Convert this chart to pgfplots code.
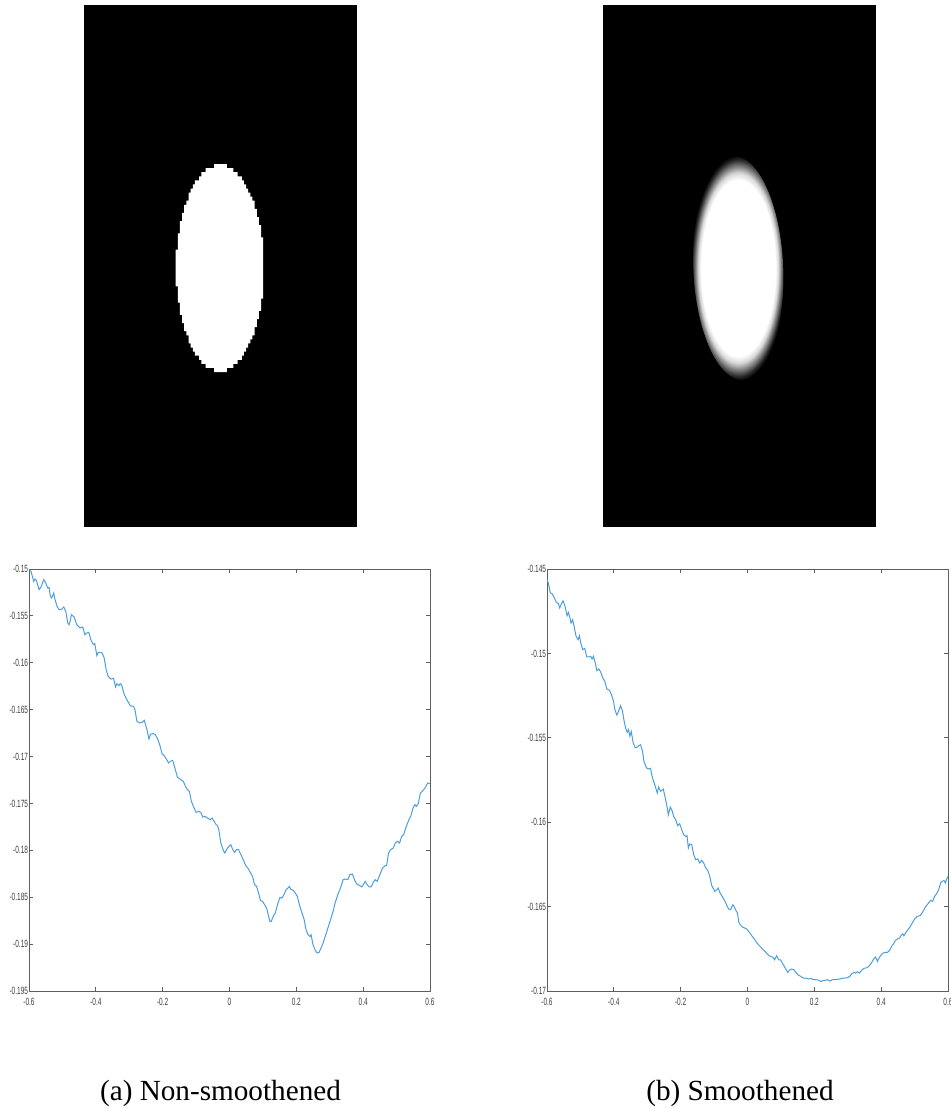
\documentclass[border=0pt]{standalone}
\usepackage{fontspec}
\setmainfont{Liberation Serif}
\newfontfamily\tickfont[FakeStretch=0.62]{Liberation Sans}
\usepackage{pgfplots}
\pgfplotsset{compat=1.18}
\definecolor{mlblue}{RGB}{77,158,220}
\definecolor{axgray}{RGB}{95,95,95}
\definecolor{lblgray}{RGB}{60,60,60}
\pgfdeclareradialshading{blurell}{\pgfpoint{0bp}{0bp}}{color(0bp)=(white); color(19.5bp)=(white); color(21bp)=(black!15!white); color(22.5bp)=(black!50!white); color(24bp)=(black!85!white); color(25bp)=(black); color(50bp)=(black)}
\pgfplotsset{
 lineplot/.style={scale only axis, width=200.5pt, height=211pt, xmin=-0.6, xmax=0.6,
   axis line style={axgray, line width=0.45pt}, tick style={axgray, line width=0.45pt},
   tick align=inside, major tick length=2pt, xtick pos=both, ytick pos=both,
   xtick={-0.6,-0.4,-0.2,0,0.2,0.4,0.6}, xticklabels={-0.6,-0.4,-0.2,0,0.2,0.4,0.6},
   tick label style={font=\tickfont\fontsize{5.25pt}{6pt}\selectfont, text=lblgray},
   xticklabel style={inner sep=0pt, yshift=-3.5pt},
   yticklabel style={inner sep=0pt, xshift=-0.3pt},
 },
 imgaxis/.style={scale only axis, width=136.5pt, height=261pt, xmin=0, xmax=128, ymin=0, ymax=128,
   y dir=reverse, axis lines=none, clip=false},
}
\begin{document}
\begin{tikzpicture}
\useasboundingbox (0,0) rectangle (475pt,554pt);
% ---- left image (non-smoothened, pixelated ellipse)
\begin{axis}[imgaxis, at={(42pt,290.5pt)}, anchor=south west]
\addplot[fill=black, draw=none] coordinates {(0,0) (128,0) (128,128) (0,128)} --cycle;
\addplot[fill=white, draw=none] coordinates {
(67,39)(67,40)(70,40)(70,41)(72,41)(72,42)(74,42)(74,43)(75,43)(75,44)(76,44)(76,45)(77,45)(77,46)(78,46)(78,47)(79,47)(79,48)(80,48)(80,50)(81,50)(81,52)(82,52)(82,54)(83,54)(83,57)(84,57)(84,72)(83,72)(83,75)(82,75)(82,77)(81,77)(81,79)(80,79)(80,81)(79,81)(79,82)(78,82)(78,83)(77,83)(77,84)(76,84)(76,85)(75,85)(75,86)(74,86)(74,87)(72,87)(72,88)(70,88)(70,89)(67,89)(67,90)
(61,90)(61,89)(57,89)(57,88)(55,88)(55,87)(54,87)(54,86)(52,86)(52,85)(51,85)(51,84)(50,84)(50,83)(49,83)(49,81)(48,81)(48,80)(47,80)(47,78)(46,78)(46,76)(45,76)(45,73)(44,73)(44,69)(43,69)(43,60)(44,60)(44,56)(45,56)(45,53)(46,53)(46,51)(47,51)(47,49)(48,49)(48,48)(49,48)(49,46)(50,46)(50,45)(51,45)(51,44)(52,44)(52,43)(54,43)(54,42)(55,42)(55,41)(57,41)(57,40)(61,40)(61,39)
} --cycle;
\end{axis}
% ---- right image (smoothened, blurred ellipse)
\begin{axis}[imgaxis, at={(301.5pt,290.5pt)}, anchor=south west]
\addplot[fill=black, draw=none] coordinates {(0,0) (128,0) (128,128) (0,128)} --cycle;
\shade[shading=blurell, rotate around={2.5:(axis cs:63.4,64.5)}] (axis cs:63.4,64.5) ellipse [x radius=22.5pt, y radius=56pt];
\end{axis}
% ---- left line plot
\begin{axis}[lineplot, at={(14.5pt,58.5pt)}, anchor=south west, ymin=-0.195, ymax=-0.15,
  ytick={-0.195,-0.19,-0.185,-0.18,-0.175,-0.17,-0.165,-0.16,-0.155,-0.15},
  yticklabels={-0.195,-0.19,-0.185,-0.18,-0.175,-0.17,-0.165,-0.16,-0.155,-0.15}]
\addplot[mlblue, line width=0.5pt] coordinates {
(-0.600,-0.15000)(-0.594,-0.15025)(-0.586,-0.15132)(-0.582,-0.15107)(-0.578,-0.15121)(-0.570,-0.15220)(-0.564,-0.15192)(-0.556,-0.15114)(-0.550,-0.15149)(-0.544,-0.15203)
(-0.540,-0.15196)(-0.536,-0.15292)(-0.532,-0.15309)(-0.526,-0.15256)(-0.522,-0.15327)(-0.516,-0.15398)(-0.510,-0.15434)(-0.504,-0.15434)(-0.496,-0.15405)(-0.490,-0.15451)
(-0.484,-0.15576)(-0.480,-0.15594)(-0.477,-0.15558)(-0.473,-0.15487)(-0.465,-0.15512)(-0.457,-0.15594)(-0.447,-0.15629)(-0.439,-0.15619)(-0.433,-0.15700)(-0.427,-0.15683)
(-0.421,-0.15675)(-0.415,-0.15754)(-0.407,-0.15807)(-0.403,-0.15796)(-0.397,-0.15924)(-0.393,-0.15889)(-0.387,-0.15889)(-0.381,-0.15896)(-0.375,-0.15949)(-0.369,-0.16074)
(-0.363,-0.16145)(-0.355,-0.16173)(-0.347,-0.16166)(-0.341,-0.16258)(-0.337,-0.16223)(-0.331,-0.16244)(-0.327,-0.16223)(-0.323,-0.16234)(-0.315,-0.16337)(-0.307,-0.16394)
(-0.297,-0.16458)(-0.287,-0.16465)(-0.283,-0.16500)(-0.277,-0.16625)(-0.269,-0.16642)(-0.261,-0.16635)(-0.255,-0.16614)(-0.247,-0.16714)(-0.241,-0.16813)(-0.236,-0.16760)
(-0.228,-0.16756)(-0.222,-0.16767)(-0.214,-0.16820)(-0.208,-0.16884)(-0.202,-0.16969)(-0.196,-0.16987)(-0.188,-0.17033)(-0.182,-0.17069)(-0.176,-0.17048)(-0.170,-0.17041)
(-0.162,-0.17140)(-0.156,-0.17218)(-0.148,-0.17240)(-0.138,-0.17265)(-0.132,-0.17318)(-0.126,-0.17353)(-0.120,-0.17371)(-0.114,-0.17478)(-0.108,-0.17531)(-0.100,-0.17595)
(-0.092,-0.17585)(-0.086,-0.17595)(-0.080,-0.17645)(-0.074,-0.17638)(-0.064,-0.17659)(-0.058,-0.17673)(-0.052,-0.17656)(-0.048,-0.17680)(-0.040,-0.17727)(-0.036,-0.17734)
(-0.032,-0.17780)(-0.026,-0.17922)(-0.018,-0.18004)(-0.014,-0.18029)(-0.008,-0.17986)(0.000,-0.17951)(0.004,-0.17940)(0.009,-0.17986)(0.015,-0.18022)(0.021,-0.17993)
(0.027,-0.17993)(0.033,-0.18036)(0.041,-0.18100)(0.049,-0.18164)(0.057,-0.18200)(0.063,-0.18242)(0.069,-0.18278)(0.075,-0.18367)(0.081,-0.18384)(0.087,-0.18456)
(0.093,-0.18537)(0.099,-0.18544)(0.105,-0.18580)(0.111,-0.18615)(0.117,-0.18704)(0.121,-0.18758)(0.125,-0.18758)(0.129,-0.18722)(0.133,-0.18687)(0.137,-0.18669)
(0.145,-0.18562)(0.151,-0.18502)(0.157,-0.18509)(0.163,-0.18473)(0.169,-0.18420)(0.175,-0.18402)(0.179,-0.18384)(0.183,-0.18413)(0.191,-0.18427)(0.197,-0.18456)
(0.203,-0.18491)(0.209,-0.18580)(0.217,-0.18669)(0.223,-0.18733)(0.229,-0.18847)(0.235,-0.18900)(0.241,-0.18918)(0.244,-0.18900)(0.250,-0.19007)(0.256,-0.19060)
(0.262,-0.19095)(0.268,-0.19088)(0.274,-0.19042)(0.280,-0.18989)(0.288,-0.18900)(0.296,-0.18811)(0.304,-0.18722)(0.310,-0.18651)(0.316,-0.18562)(0.324,-0.18473)
(0.332,-0.18402)(0.340,-0.18313)(0.346,-0.18306)(0.354,-0.18313)(0.360,-0.18260)(0.368,-0.18253)(0.374,-0.18313)(0.380,-0.18356)(0.390,-0.18377)(0.396,-0.18391)
(0.402,-0.18356)(0.406,-0.18331)(0.412,-0.18367)(0.418,-0.18391)(0.424,-0.18391)(0.430,-0.18342)(0.436,-0.18313)(0.442,-0.18331)(0.450,-0.18260)(0.458,-0.18189)
(0.466,-0.18164)(0.470,-0.18164)(0.476,-0.18029)(0.482,-0.17993)(0.490,-0.17976)(0.496,-0.17922)(0.503,-0.17904)(0.509,-0.17922)(0.515,-0.17851)(0.521,-0.17833)
(0.529,-0.17744)(0.537,-0.17673)(0.543,-0.17631)(0.549,-0.17549)(0.555,-0.17513)(0.559,-0.17531)(0.565,-0.17503)(0.571,-0.17389)(0.577,-0.17371)(0.585,-0.17336)
(0.593,-0.17282)(0.600,-0.17289)
};
\end{axis}
% ---- right line plot
\begin{axis}[lineplot, at={(273.5pt,58.5pt)}, anchor=south west, ymin=-0.17, ymax=-0.145,
  ytick={-0.17,-0.165,-0.16,-0.155,-0.15,-0.145},
  yticklabels={-0.17,-0.165,-0.16,-0.155,-0.15,-0.145}]
\addplot[mlblue, line width=0.5pt] coordinates {
(-0.600,-0.14563)(-0.596,-0.14583)(-0.590,-0.14642)(-0.584,-0.14648)(-0.578,-0.14672)(-0.572,-0.14698)(-0.566,-0.14705)(-0.562,-0.14731)(-0.558,-0.14711)(-0.552,-0.14688)
(-0.546,-0.14721)(-0.540,-0.14777)(-0.536,-0.14757)(-0.532,-0.14784)(-0.528,-0.14820)(-0.523,-0.14800)(-0.519,-0.14840)(-0.513,-0.14899)(-0.507,-0.14919)(-0.503,-0.14895)
(-0.499,-0.14938)(-0.493,-0.14978)(-0.487,-0.14970)(-0.481,-0.15021)(-0.475,-0.15021)(-0.469,-0.15017)(-0.465,-0.15033)(-0.461,-0.15017)(-0.455,-0.15061)(-0.451,-0.15102)
(-0.445,-0.15092)(-0.439,-0.15112)(-0.433,-0.15146)(-0.427,-0.15166)(-0.421,-0.15211)(-0.413,-0.15219)(-0.407,-0.15245)(-0.401,-0.15284)(-0.397,-0.15333)(-0.391,-0.15365)
(-0.386,-0.15343)(-0.380,-0.15310)(-0.374,-0.15343)(-0.370,-0.15393)(-0.364,-0.15448)(-0.360,-0.15468)(-0.356,-0.15452)(-0.352,-0.15491)(-0.348,-0.15462)(-0.342,-0.15531)
(-0.336,-0.15559)(-0.330,-0.15555)(-0.326,-0.15547)(-0.320,-0.15541)(-0.314,-0.15580)(-0.310,-0.15640)(-0.302,-0.15679)(-0.294,-0.15685)(-0.290,-0.15681)(-0.286,-0.15725)
(-0.280,-0.15764)(-0.276,-0.15788)(-0.270,-0.15827)(-0.266,-0.15792)(-0.260,-0.15817)(-0.252,-0.15804)(-0.246,-0.15857)(-0.241,-0.15906)(-0.237,-0.15956)(-0.231,-0.15910)
(-0.225,-0.15936)(-0.221,-0.15965)(-0.215,-0.15985)(-0.209,-0.16021)(-0.203,-0.16009)(-0.197,-0.16044)(-0.191,-0.16074)(-0.185,-0.16084)(-0.181,-0.16080)(-0.177,-0.16153)
(-0.173,-0.16129)(-0.167,-0.16133)(-0.161,-0.16193)(-0.155,-0.16222)(-0.149,-0.16218)(-0.143,-0.16242)(-0.137,-0.16226)(-0.131,-0.16242)(-0.125,-0.16272)(-0.119,-0.16285)
(-0.113,-0.16321)(-0.107,-0.16376)(-0.103,-0.16390)(-0.098,-0.16410)(-0.092,-0.16400)(-0.088,-0.16390)(-0.082,-0.16420)(-0.076,-0.16439)(-0.070,-0.16459)(-0.064,-0.16483)
(-0.058,-0.16509)(-0.054,-0.16518)(-0.050,-0.16515)(-0.044,-0.16489)(-0.040,-0.16499)(-0.036,-0.16518)(-0.030,-0.16538)(-0.026,-0.16594)(-0.022,-0.16607)(-0.014,-0.16623)
(-0.008,-0.16627)(-0.002,-0.16633)(0.006,-0.16653)(0.014,-0.16676)(0.022,-0.16696)(0.028,-0.16716)(0.036,-0.16732)(0.043,-0.16748)(0.049,-0.16759)(0.055,-0.16771)
(0.061,-0.16785)(0.069,-0.16795)(0.075,-0.16799)(0.081,-0.16815)(0.087,-0.16791)(0.093,-0.16815)(0.099,-0.16815)(0.105,-0.16838)(0.113,-0.16864)(0.121,-0.16890)
(0.125,-0.16878)(0.131,-0.16870)(0.139,-0.16874)(0.145,-0.16890)(0.151,-0.16904)(0.159,-0.16913)(0.167,-0.16923)(0.175,-0.16923)(0.182,-0.16929)(0.190,-0.16925)
(0.198,-0.16933)(0.206,-0.16933)(0.214,-0.16937)(0.220,-0.16945)(0.226,-0.16937)(0.232,-0.16937)(0.240,-0.16933)(0.246,-0.16941)(0.254,-0.16933)(0.262,-0.16933)
(0.268,-0.16931)(0.276,-0.16929)(0.284,-0.16925)(0.292,-0.16923)(0.300,-0.16921)(0.306,-0.16913)(0.312,-0.16898)(0.318,-0.16890)(0.323,-0.16894)(0.329,-0.16886)
(0.335,-0.16894)(0.341,-0.16878)(0.349,-0.16866)(0.357,-0.16862)(0.363,-0.16854)(0.371,-0.16834)(0.377,-0.16811)(0.383,-0.16799)(0.389,-0.16825)(0.395,-0.16799)
(0.403,-0.16779)(0.411,-0.16771)(0.419,-0.16771)(0.425,-0.16759)(0.431,-0.16736)(0.437,-0.16720)(0.443,-0.16700)(0.449,-0.16692)(0.455,-0.16686)(0.461,-0.16667)
(0.465,-0.16661)(0.468,-0.16673)(0.474,-0.16653)(0.480,-0.16637)(0.486,-0.16621)(0.492,-0.16601)(0.500,-0.16574)(0.508,-0.16558)(0.516,-0.16554)(0.524,-0.16534)
(0.532,-0.16503)(0.540,-0.16483)(0.548,-0.16463)(0.554,-0.16469)(0.560,-0.16439)(0.566,-0.16424)(0.572,-0.16400)(0.578,-0.16360)(0.582,-0.16351)(0.588,-0.16345)
(0.592,-0.16360)(0.596,-0.16337)(0.600,-0.16321)
};
\end{axis}
% ---- captions
\node[anchor=base, font=\fontsize{14.6pt}{17pt}\selectfont] at (110.25pt,4pt) {(a) Non-smoothened};
\node[anchor=base, font=\fontsize{14.6pt}{17pt}\selectfont] at (370pt,4pt) {(b) Smoothened};
\end{tikzpicture}
\end{document}
